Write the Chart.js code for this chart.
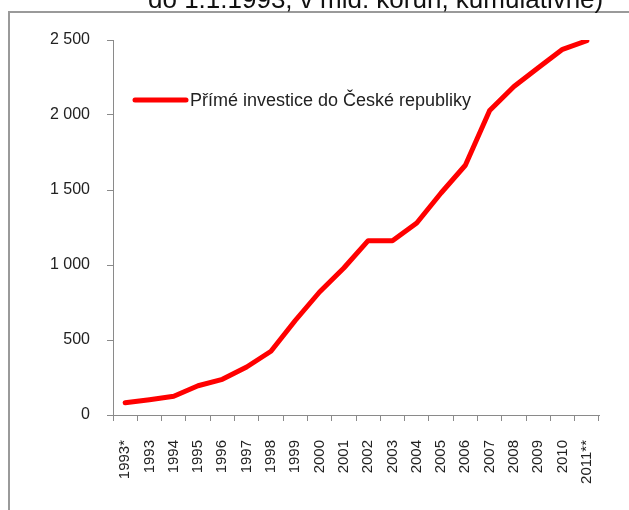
<!DOCTYPE html>
<html>
<head>
<meta charset="utf-8">
<script src="https://cdn.jsdelivr.net/npm/chart.js@4.4.1/dist/chart.umd.min.js"></script>
<style>
  html, body { margin: 0; padding: 0; background: #fff; }
  #wrap { position: relative; width: 629px; height: 510px; }
</style>
</head>
<body>
<div id="wrap"><canvas id="myChart" width="629" height="510"></canvas></div>
<script>
// Data (mld. Kč, kumulativně)
const years = ['1993*', '1993', '1994', '1995', '1996', '1997', '1998', '1999', '2000', '2001',
               '2002', '2003', '2004', '2005', '2006', '2007', '2008', '2009', '2010', '2011**'];
const investments = [82, 102, 125, 195, 238, 320, 425, 630, 820, 980,
                     1162, 1162, 1280, 1480, 1665, 2030, 2190, 2315, 2438, 2495];
const yTicks = [0, 500, 1000, 1500, 2000, 2500];
const seriesLabel = 'Přímé investice do České republiky';
const titleText = 'do 1.1.1993, v mld. korun, kumulativně)';

const fontFamily = '"Liberation Sans", Arial, sans-serif';

// frame, clipped title and in-plot legend
const decorPlugin = {
    id: 'decor',
    beforeDraw(chart) {
        const c = chart.ctx;
        c.save();
        c.fillStyle = '#fff';
        c.fillRect(0, 0, chart.width, chart.height);
        c.strokeStyle = '#9a9a9a';
        c.lineWidth = 2;
        c.beginPath();
        c.moveTo(9, chart.height);
        c.lineTo(9, 12);
        c.lineTo(chart.width, 12);
        c.stroke();
        c.restore();
    },
    afterDraw(chart) {
        const c = chart.ctx;
        c.save();
        // title, cut off by the top edge
        c.fillStyle = '#111';
        c.font = '26px ' + fontFamily;
        c.textBaseline = 'alphabetic';
        c.textAlign = 'left';
        c.fillText(titleText, 148, 8);

        // legend
        const ds = chart.data.datasets[0];
        c.strokeStyle = ds.borderColor;
        c.lineWidth = 5;
        c.lineCap = 'round';
        c.beginPath();
        c.moveTo(135, 100);
        c.lineTo(186, 100);
        c.stroke();
        c.fillStyle = '#222';
        c.font = '18px ' + fontFamily;
        c.textBaseline = 'middle';
        c.fillText(ds.label, 190, 101);
        c.restore();
    }
};

const ctx = document.getElementById('myChart').getContext('2d');

const myChart = new Chart(ctx, {
    type: 'line',
    data: {
        labels: years,
        datasets: [{
            label: seriesLabel,
            data: investments,
            borderColor: '#ff0000',
            borderWidth: 5,
            borderCapStyle: 'round',
            borderJoinStyle: 'round',
            pointRadius: 0,
            tension: 0,
            fill: false
        }]
    },
    options: {
        responsive: false,
        animation: false,
        events: [],
        layout: {
            padding: { top: 40, right: 30, left: 0, bottom: 0 }
        },
        scales: {
            x: {
                offset: true,
                grid: {
                    offset: true,
                    drawOnChartArea: false,
                    color: '#8a8a8a',
                    tickLength: 6
                },
                border: { color: '#8a8a8a', width: 1 },
                ticks: {
                    autoSkip: false,
                    minRotation: 90,
                    maxRotation: 90,
                    padding: 19,
                    color: '#222',
                    font: { family: fontFamily, size: 15 }
                },
                afterFit(scale) { scale.height = 95; }
            },
            y: {
                min: 0,
                max: 2500,
                afterBuildTicks(scale) {
                    scale.ticks = yTicks.map(v => ({ value: v }));
                },
                grid: {
                    drawOnChartArea: false,
                    color: '#8a8a8a',
                    tickLength: 6
                },
                border: { color: '#8a8a8a', width: 1 },
                ticks: {
                    padding: 17,
                    color: '#222',
                    font: { family: fontFamily, size: 16 },
                    callback: v => String(v).replace(/\B(?=(\d{3})+(?!\d))/g, ' ')
                },
                afterFit(scale) { scale.width = 113; }
            }
        },
        plugins: {
            legend: { display: false },
            tooltip: { enabled: false }
        }
    },
    plugins: [decorPlugin]
});
</script>
</body>
</html>
